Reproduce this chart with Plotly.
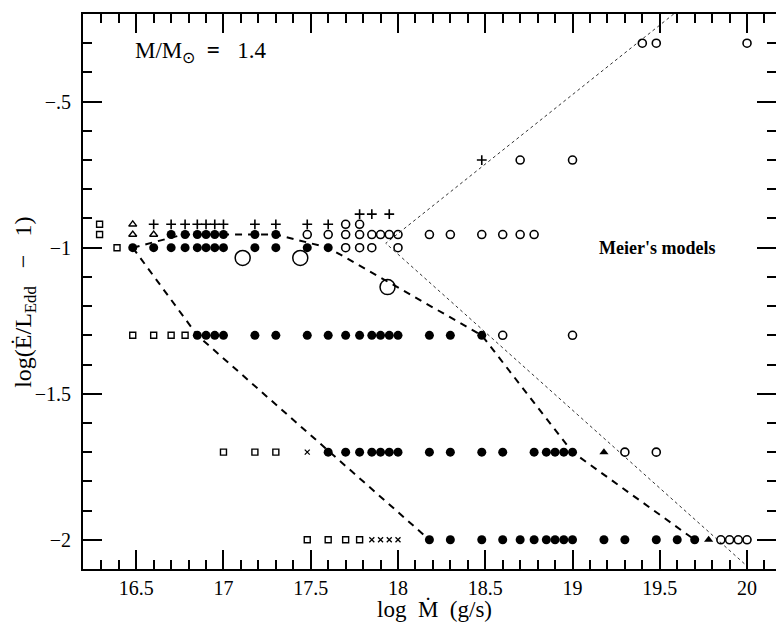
import plotly.graph_objects as go

# ---- data: log10 of accretion rate (g/s) and log(E/L_Edd - 1) ----
filled_x = [16.48, 16.60, 16.70, 16.78, 16.85, 16.90, 16.95, 17.00, 17.18, 17.30, 17.48, 17.60,
            16.70, 16.78, 16.85, 16.90, 16.95, 17.00, 17.18, 17.30,
            16.85, 16.90, 16.95, 17.00, 17.18, 17.30, 17.48, 17.60, 17.70, 17.78, 17.85, 17.90,
            17.95, 18.00, 18.18, 18.30, 18.48,
            17.60, 17.70, 17.78, 17.85, 17.90, 17.95, 18.00, 18.18, 18.30, 18.48, 18.60, 18.78,
            18.85, 18.90, 18.95, 19.00,
            18.18, 18.30, 18.48, 18.60, 18.70, 18.78, 18.85, 18.90, 18.95, 19.00, 19.18, 19.30,
            19.48, 19.60, 19.70]
filled_y = ([-1.0] * 12 + [-0.955] * 8 + [-1.3] * 17 + [-1.7] * 16 + [-2.0] * 15)

open_x = [17.70, 17.78, 17.85, 18.00,
          17.48, 17.60, 17.70, 17.78, 17.85, 17.90, 17.95, 18.00, 18.18, 18.30, 18.48, 18.60,
          18.70, 18.78,
          17.70, 17.78,
          18.60, 19.00,
          19.30, 19.48,
          19.85, 19.90, 19.95, 20.00,
          18.70, 19.00,
          19.40, 19.48, 20.00]
open_y = ([-1.0] * 4 + [-0.955] * 14 + [-0.92] * 2 + [-1.3] * 2 + [-1.7] * 2 + [-2.0] * 4
          + [-0.7] * 2 + [-0.3] * 3)

plus_x = [16.60, 16.70, 16.78, 16.85, 16.90, 16.95, 17.00, 17.18, 17.30, 17.48, 17.60,
          17.78, 17.85, 17.95,
          18.48]
plus_y = [-0.92] * 11 + [-0.885] * 3 + [-0.7]

tri_open_x = [16.48, 16.48, 16.60]
tri_open_y = [-0.92, -0.955, -0.955]

tri_fill_x = [19.18, 19.78]
tri_fill_y = [-1.7, -2.0]

square_x = [16.29, 16.29, 16.39, 16.48, 16.60, 16.70, 16.78, 17.00, 17.18, 17.30,
            17.48, 17.60, 17.70, 17.78]
square_y = [-0.92, -0.955, -1.0] + [-1.3] * 4 + [-1.7] * 3 + [-2.0] * 4

cross_x = [17.48, 17.85, 17.90, 17.95, 18.00]
cross_y = [-1.7, -2.0, -2.0, -2.0, -2.0]

big_x = [17.11, 17.44, 17.94]
big_y = [-1.035, -1.035, -1.135]

# dashed boundaries
dashA_x = [16.48, 16.85, 18.18]
dashA_y = [-1.0, -1.3, -2.0]
dashB_x = [16.48, 16.77, 17.30, 17.60, 18.48, 19.00, 19.70]
dashB_y = [-1.0, -0.955, -0.955, -1.0, -1.3, -1.7, -2.0]

# dotted wedge (Meier's models)
dot_x = [19.58, 17.93, 20.00]
dot_y = [-0.2, -0.985, -2.09]

x_range = [16.195, 20.166]
y_range = [-2.1, -0.2]
y_tickvals = [-2.0, -1.5, -1.0, -0.5]
y_ticktext = ["\u22122", "\u22121.5", "\u22121", "\u2212.5"]

SERIF = "Liberation Serif"

fig = go.Figure()

fig.add_trace(go.Scatter(x=dot_x, y=dot_y, mode="lines",
                         line=dict(color="#333", width=1, dash="dot"), hoverinfo="skip"))
fig.add_trace(go.Scatter(x=dashA_x, y=dashA_y, mode="lines",
                         line=dict(color="black", width=2, dash="7px,6px"), hoverinfo="skip"))
fig.add_trace(go.Scatter(x=dashB_x, y=dashB_y, mode="lines",
                         line=dict(color="black", width=2, dash="7px,6px"), hoverinfo="skip"))

fig.add_trace(go.Scatter(x=filled_x, y=filled_y, mode="markers",
                         marker=dict(symbol="circle", size=9, color="black", line=dict(width=0))))
fig.add_trace(go.Scatter(x=open_x, y=open_y, mode="markers",
                         marker=dict(symbol="circle-open", size=8, color="black",
                                     line=dict(width=1.6, color="black"))))
fig.add_trace(go.Scatter(x=big_x, y=big_y, mode="markers",
                         marker=dict(symbol="circle-open", size=15, color="black",
                                     line=dict(width=1.5, color="black"))))
fig.add_trace(go.Scatter(x=plus_x, y=plus_y, mode="markers",
                         marker=dict(symbol="cross-thin-open", size=7, color="black",
                                     line=dict(width=1.6, color="black"))))
fig.add_trace(go.Scatter(x=tri_open_x, y=tri_open_y, mode="markers",
                         marker=dict(symbol="triangle-up-open", size=7, color="black",
                                     line=dict(width=1.4, color="black"))))
fig.add_trace(go.Scatter(x=tri_fill_x, y=tri_fill_y, mode="markers",
                         marker=dict(symbol="triangle-up", size=8, color="black", line=dict(width=0))))
fig.add_trace(go.Scatter(x=square_x, y=square_y, mode="markers",
                         marker=dict(symbol="square-open", size=6, color="black",
                                     line=dict(width=1.4, color="black"))))
fig.add_trace(go.Scatter(x=cross_x, y=cross_y, mode="markers",
                         marker=dict(symbol="x-thin-open", size=5, color="black",
                                     line=dict(width=1.3, color="black"))))
# carrier for the right-hand tick axis
fig.add_trace(go.Scatter(x=[None], y=[None], yaxis="y2", mode="markers", showlegend=False,
                         hoverinfo="skip"))

tick_common = dict(ticks="inside", tickcolor="black", tickwidth=1.5)

fig.update_layout(
    width=776, height=622,
    margin=dict(l=83, r=0, t=14, b=53),
    paper_bgcolor="white", plot_bgcolor="white",
    showlegend=False,
    font=dict(family=SERIF, size=19, color="black"),
    xaxis=dict(
        range=x_range, tickmode="linear", tick0=16.5, dtick=0.5, ticklen=19,
        showgrid=False, zeroline=False, showline=True, linecolor="black", linewidth=2,
        mirror="ticks",
        minor=dict(tickmode="linear", tick0=16.2, dtick=0.1, ticklen=9,
                   ticks="inside", tickcolor="black", tickwidth=1.5, showgrid=False),
        tickfont=dict(family=SERIF, size=20, color="black"),
        automargin=False,
        **tick_common,
    ),
    yaxis=dict(
        range=y_range, tickmode="array", tickvals=y_tickvals, ticktext=y_ticktext, ticklen=19,
        showgrid=False, zeroline=False, showline=True, linecolor="black", linewidth=2,
        mirror=False,
        minor=dict(tickmode="linear", tick0=-2.0, dtick=0.1, ticklen=9,
                   ticks="inside", tickcolor="black", tickwidth=1.5, showgrid=False),
        tickfont=dict(family=SERIF, size=20, color="black"),
        ticklabelstandoff=6,
        automargin=False,
        **tick_common,
    ),
    yaxis2=dict(
        range=y_range, overlaying="y", side="right", anchor="x",
        tickmode="array", tickvals=y_tickvals, ticklen=19, showticklabels=False,
        showgrid=False, zeroline=False, showline=False,
        minor=dict(tickmode="linear", tick0=-2.0, dtick=0.1, ticklen=9,
                   ticks="inside", tickcolor="black", tickwidth=1.5, showgrid=False),
        **tick_common,
    ),
    annotations=[
        # axis titles
        dict(x=0.507, y=-0.073, xref="paper", yref="paper", xanchor="center", yanchor="middle",
             text="log  \u1E40  (g/s)", showarrow=False,
             font=dict(family=SERIF, size=23, color="black")),
        dict(x=-0.084, y=0.481, xref="paper", yref="paper", xanchor="center", yanchor="middle",
             textangle=-90,
             text="log(\u0116/L<sub>Edd</sub>   \u2212   1)", showarrow=False,
             font=dict(family=SERIF, size=24, color="black")),
        # in-plot labels
        dict(x=16.48, y=-0.33, xref="x", yref="y", xanchor="left", yanchor="middle",
             text="M/M<sub>\u2299</sub>  <b>=</b>   1.4", showarrow=False,
             font=dict(family=SERIF, size=23, color="black")),
        dict(x=19.14, y=-1.0, xref="x", yref="y", xanchor="left", yanchor="middle",
             text="<b>Meier's models</b>", showarrow=False,
             font=dict(family=SERIF, size=18, color="black")),
    ],
)

fig.write_html("out.html")
